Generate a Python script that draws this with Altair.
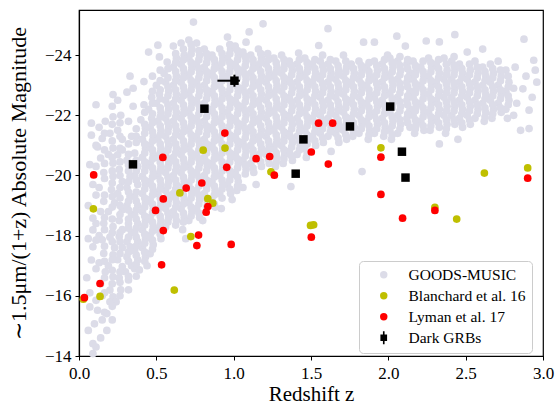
import altair as alt
import pandas as pd

# ---------------- data ----------------
series_names = ["GOODS-MUSIC", "Blanchard et al. 16", "Lyman et al. 17", "Dark GRBs"]

# GOODS-MUSIC field galaxies (redshift, magnitude), hand-estimated from the cloud
goods = [
    (0.08,-21.74),(0.08,-21.34),(0.07,-20.36),(0.09,-19.7),(0.06,-19.0),(0.09,-18.58),(0.09,-18.19),(0.06,-17.9),
    (0.09,-17.63),(0.08,-17.19),(0.05,-16.6),(0.07,-16.1),(0.07,-15.63),(0.06,-14.85),(0.10,-15.07),(0.09,-14.41),
    (0.09,-14.08),(0.11,-14.3),(0.11,-22.35),(0.12,-20.95),
    (0.13,-21.6),(0.15,-21.23),(0.14,-20.58),(0.16,-20.1),(0.13,-19.6),(0.16,-19.14),(0.14,-18.8),(0.16,-18.41),
    (0.13,-18.0),(0.15,-17.86),(0.16,-17.41),(0.13,-17.1),(0.17,-16.8),(0.14,-16.4),(0.15,-16.0),(0.12,-15.52),
    (0.15,-15.2),(0.18,-14.85),(0.14,-14.6),(0.17,-21.8),
    (0.22,-22.69),(0.22,-21.95),(0.20,-21.4),(0.22,-20.91),(0.19,-20.7),(0.22,-20.41),(0.22,-19.97),(0.21,-19.53),
    (0.23,-19.09),(0.19,-18.8),(0.22,-18.3),(0.20,-17.95),(0.23,-17.6),(0.22,-17.36),(0.19,-17.0),(0.22,-16.63),
    (0.20,-16.19),(0.22,-15.97),(0.18,-15.41),(0.20,-15.8),
    (0.25,-22.5),(0.27,-22.0),(0.25,-21.5),(0.28,-21.2),(0.25,-20.69),(0.28,-20.85),(0.26,-20.2),(0.28,-19.8),
    (0.25,-19.4),(0.28,-18.86),(0.26,-18.5),(0.28,-18.2),(0.26,-17.97),(0.28,-17.6),(0.25,-17.2),(0.28,-16.97),
    (0.26,-16.6),(0.27,-16.2),(0.24,-15.8),
    (0.31,-22.77),(0.33,-23.3),(0.34,-21.3),(0.31,-20.5),(0.33,-19.97),(0.31,-19.6),(0.33,-19.3),(0.31,-19.0),
    (0.34,-18.7),(0.32,-18.4),(0.34,-18.1),(0.31,-17.8),(0.33,-17.63),(0.31,-17.3),(0.34,-17.0),(0.32,-16.53),
    (0.30,-16.8),(0.32,-21.8),
    (0.35,-22.9),(0.35,-22.3),(0.36,-20.74),(0.38,-20.3),(0.36,-20.0),(0.38,-19.7),(0.36,-19.3),(0.38,-19.0),
    (0.36,-18.7),(0.38,-18.4),(0.36,-18.1),(0.38,-17.8),(0.36,-17.5),(0.38,-17.2),(0.36,-16.9),(0.39,-16.86),
    (0.37,-21.3),
    (0.42,-22.35),(0.42,-23.12),(0.40,-21.85),(0.43,-21.57),(0.41,-21.2),(0.43,-20.9),(0.41,-20.6),(0.43,-20.3),
    (0.41,-19.97),(0.43,-19.7),(0.41,-19.4),(0.43,-19.1),(0.41,-18.8),(0.43,-18.5),(0.41,-18.2),(0.43,-17.9),
    (0.41,-17.6),(0.43,-17.3),(0.44,-17.0),
    (0.45,-24.1),(0.47,-22.6),(0.45,-22.2),(0.47,-21.9),(0.46,-21.6),(0.48,-21.3),(0.46,-21.0),(0.48,-20.7),
    (0.46,-20.4),(0.48,-20.1),(0.46,-19.8),(0.48,-19.5),(0.46,-19.2),(0.48,-18.9),(0.46,-18.6),(0.48,-18.3),
    (0.46,-18.0),(0.48,-17.7),(0.46,-17.4),
    (0.51,-24.33),(0.52,-23.94),(0.50,-23.0),(0.52,-22.7),(0.50,-22.4),(0.53,-22.1),(0.51,-21.8),(0.53,-21.5),
    (0.51,-21.2),(0.53,-20.9),(0.51,-20.6),(0.53,-20.3),(0.51,-20.0),(0.53,-19.7),(0.51,-19.4),(0.53,-19.1),
    (0.51,-18.8),(0.53,-18.5),(0.51,-18.2),(0.53,-17.9),
    (0.55,-23.39),(0.57,-23.77),(0.56,-23.1),(0.58,-22.8),(0.56,-22.5),(0.58,-22.2),(0.56,-21.9),(0.58,-21.6),
    (0.56,-21.3),(0.58,-21.0),(0.56,-20.7),(0.58,-20.4),(0.56,-20.1),(0.58,-19.8),(0.56,-19.5),(0.58,-19.2),
    (0.56,-18.9),(0.58,-18.6),(0.56,-18.3),
    (0.61,-24.3),(0.63,-23.9),(0.61,-23.6),(0.63,-23.3),(0.61,-23.0),(0.63,-22.7),(0.61,-22.4),(0.63,-22.1),
    (0.61,-21.8),(0.63,-21.5),(0.61,-21.2),(0.63,-20.9),(0.61,-20.6),(0.63,-20.3),(0.61,-20.0),(0.63,-19.7),
    (0.61,-19.4),(0.63,-19.1),(0.61,-18.8),(0.63,-18.5),
    (0.66,-24.4),(0.68,-24.0),(0.66,-23.7),(0.68,-23.4),(0.66,-23.1),(0.68,-22.8),(0.66,-22.5),(0.68,-22.2),
    (0.66,-21.9),(0.68,-21.6),(0.66,-21.3),(0.68,-21.0),(0.66,-20.7),(0.68,-20.4),(0.66,-20.1),(0.68,-19.8),
    (0.66,-19.5),(0.68,-19.2),(0.66,-18.9),(0.68,-18.6),(0.67,-18.2),(0.69,-17.9),
    (0.74,-25.1),(0.71,-24.5),(0.73,-24.2),(0.71,-23.9),(0.73,-23.6),(0.71,-23.3),(0.73,-23.0),(0.71,-22.7),
    (0.73,-22.4),(0.71,-22.1),(0.73,-21.8),(0.71,-21.5),(0.73,-21.2),(0.71,-20.9),(0.73,-20.6),(0.71,-20.3),
    (0.73,-20.0),(0.71,-19.7),(0.73,-19.4),(0.71,-19.1),(0.73,-18.8),(0.71,-18.5),
    (0.76,-24.4),(0.78,-24.0),(0.76,-23.7),(0.78,-23.4),(0.76,-23.1),(0.78,-22.8),(0.76,-22.5),(0.78,-22.2),
    (0.76,-21.9),(0.78,-21.6),(0.76,-21.3),(0.78,-21.0),(0.76,-20.7),(0.78,-20.4),(0.76,-20.1),(0.78,-19.8),
    (0.76,-19.5),(0.78,-19.2),(0.76,-18.9),(0.78,-18.6),
    (0.81,-24.2),(0.83,-23.9),(0.81,-23.6),(0.83,-23.3),(0.81,-23.0),(0.83,-22.7),(0.81,-22.4),(0.83,-22.1),
    (0.81,-21.8),(0.83,-21.5),(0.81,-21.2),(0.83,-20.9),(0.81,-20.6),(0.83,-20.3),(0.81,-20.0),(0.83,-19.7),
    (0.81,-19.4),(0.83,-19.1),(0.80,-18.5),
    (0.86,-24.0),(0.88,-23.7),(0.86,-23.4),(0.88,-23.1),(0.86,-22.8),(0.88,-22.5),(0.86,-22.2),(0.88,-21.9),
    (0.86,-21.6),(0.88,-21.3),(0.86,-21.0),(0.88,-20.7),(0.86,-20.4),(0.88,-20.1),(0.86,-19.8),(0.88,-19.5),
    (0.86,-19.2),(0.88,-18.95),
    (0.91,-24.2),(0.93,-23.9),(0.91,-23.6),(0.93,-23.3),(0.91,-23.0),(0.93,-22.7),(0.91,-22.4),(0.93,-22.1),
    (0.91,-21.8),(0.93,-21.5),(0.91,-21.2),(0.93,-20.9),(0.91,-20.6),(0.93,-20.3),(0.91,-20.0),(0.93,-19.7),
    (0.91,-19.4),(0.92,-18.9),
    (0.96,-24.6),(0.98,-24.2),(0.96,-23.9),(0.98,-23.6),(0.96,-23.3),(0.98,-23.0),(0.96,-22.7),(0.98,-22.4),
    (0.96,-22.1),(0.98,-21.8),(0.96,-21.5),(0.98,-21.2),(0.96,-20.9),(0.98,-20.6),(0.96,-20.3),(0.98,-20.0),
    (0.96,-19.7),(0.98,-19.4),(0.99,-19.2),
    (1.01,-24.3),(1.03,-24.0),(1.01,-23.7),(1.03,-23.4),(1.01,-23.1),(1.03,-22.8),(1.01,-22.5),(1.03,-22.2),
    (1.01,-21.9),(1.03,-21.6),(1.01,-21.3),(1.03,-21.0),(1.01,-20.7),(1.03,-20.4),(1.01,-20.1),(1.03,-19.8),
    (1.02,-19.5),
    (1.08,-24.43),(1.06,-24.1),(1.08,-23.8),(1.06,-23.5),(1.08,-23.2),(1.06,-22.9),(1.08,-22.6),(1.06,-22.3),
    (1.08,-22.0),(1.06,-21.7),(1.08,-21.4),(1.06,-21.1),(1.08,-20.8),(1.06,-20.5),(1.08,-20.2),(1.06,-19.6),
    (1.10,-24.77),(1.11,-24.0),(1.13,-23.7),(1.11,-23.4),(1.13,-23.1),(1.11,-22.8),(1.13,-22.5),(1.11,-22.2),
    (1.13,-21.9),(1.11,-21.6),(1.13,-21.3),(1.11,-21.0),(1.13,-20.7),(1.11,-20.4),(1.13,-20.1),
    (1.19,-25.04),(1.16,-24.2),(1.18,-23.9),(1.16,-23.6),(1.18,-23.3),(1.16,-23.0),(1.18,-22.7),(1.16,-22.4),
    (1.18,-22.1),(1.16,-21.8),(1.18,-21.5),(1.16,-21.2),(1.18,-20.9),(1.16,-20.6),(1.18,-20.3),(1.145,-19.7),
    (1.22,-24.05),(1.21,-23.7),(1.23,-23.4),(1.21,-23.1),(1.23,-22.8),(1.21,-22.5),(1.23,-22.2),(1.21,-21.9),
    (1.23,-21.6),(1.21,-21.3),(1.23,-21.0),(1.21,-20.7),(1.23,-20.4),
    (1.26,-23.9),(1.28,-23.6),(1.26,-23.3),(1.28,-23.0),(1.26,-22.7),(1.28,-22.4),(1.26,-22.1),(1.28,-21.8),
    (1.26,-21.5),(1.28,-21.2),(1.26,-20.9),(1.28,-20.6),(1.27,-20.3),
    (1.31,-24.0),(1.33,-23.7),(1.31,-23.4),(1.33,-23.1),(1.31,-22.8),(1.33,-22.5),(1.31,-22.2),(1.33,-21.9),
    (1.31,-21.6),(1.33,-21.3),(1.31,-21.0),(1.33,-20.7),(1.32,-20.4),
    (1.36,-23.8),(1.38,-23.5),(1.36,-23.2),(1.38,-22.9),(1.36,-22.6),(1.38,-22.3),(1.36,-22.0),(1.38,-21.7),
    (1.36,-21.4),(1.38,-21.1),(1.36,-20.8),(1.38,-20.5),(1.37,-19.63),
    (1.42,-24.07),(1.41,-23.7),(1.43,-23.4),(1.41,-23.1),(1.43,-22.8),(1.41,-22.5),(1.43,-22.2),(1.41,-21.9),
    (1.43,-21.6),(1.41,-21.3),(1.43,-21.0),(1.41,-20.7),
    (1.46,-23.9),(1.48,-23.6),(1.46,-23.3),(1.48,-23.0),(1.46,-22.7),(1.48,-22.4),(1.46,-22.1),(1.48,-21.8),
    (1.46,-21.5),(1.48,-21.2),(1.46,-20.9),(1.47,-20.6),
    (1.51,-23.7),(1.53,-23.4),(1.51,-23.1),(1.53,-22.8),(1.51,-22.5),(1.53,-22.2),(1.51,-21.9),(1.53,-21.6),
    (1.51,-21.3),(1.53,-21.0),
    (1.55,-24.32),(1.56,-23.8),(1.58,-23.5),(1.56,-23.2),(1.58,-22.9),(1.56,-22.6),(1.58,-22.3),(1.56,-22.0),
    (1.58,-21.7),(1.56,-21.4),(1.58,-21.1),
    (1.61,-24.88),(1.61,-23.7),(1.63,-23.4),(1.61,-23.1),(1.63,-22.8),(1.61,-22.5),(1.63,-22.2),(1.61,-21.9),
    (1.63,-21.6),(1.61,-21.3),(1.63,-20.8),
    (1.66,-23.8),(1.68,-23.5),(1.66,-23.2),(1.68,-22.9),(1.66,-22.6),(1.68,-22.3),(1.66,-22.0),(1.68,-21.7),
    (1.66,-21.4),(1.68,-21.1),
    (1.71,-24.0),(1.73,-23.6),(1.71,-23.3),(1.73,-23.0),(1.71,-22.7),(1.73,-22.4),(1.71,-22.1),(1.73,-21.8),
    (1.71,-21.5),(1.73,-21.2),
    (1.76,-23.7),(1.78,-23.4),(1.76,-23.1),(1.78,-22.8),(1.76,-22.5),(1.78,-22.2),(1.76,-21.9),(1.78,-21.6),
    (1.77,-21.3),
    (1.84,-24.43),(1.81,-23.8),(1.83,-23.5),(1.81,-23.2),(1.83,-22.9),(1.81,-22.6),(1.83,-22.3),(1.81,-22.0),
    (1.83,-21.7),(1.81,-21.4),(1.83,-20.13),
    (1.86,-23.6),(1.88,-23.3),(1.86,-23.0),(1.88,-22.7),(1.86,-22.4),(1.88,-22.1),(1.86,-21.8),(1.88,-21.5),
    (1.87,-21.2),
    (1.91,-24.43),(1.91,-23.8),(1.93,-23.5),(1.91,-23.2),(1.93,-22.9),(1.91,-22.6),(1.93,-22.3),(1.91,-22.0),
    (1.93,-21.7),(1.91,-21.4),
    (1.96,-23.7),(1.98,-23.4),(1.96,-23.1),(1.98,-22.8),(1.96,-22.5),(1.98,-22.2),(1.96,-21.9),(1.98,-21.6),
    (1.97,-21.3),(1.995,-24.0),
    (2.01,-23.9),(2.03,-23.6),(2.01,-23.3),(2.03,-23.0),(2.01,-22.7),(2.03,-22.4),(2.01,-22.1),(2.03,-21.8),
    (2.01,-21.5),(2.02,-21.2),
    (2.055,-24.63),(2.06,-23.8),(2.08,-23.5),(2.06,-23.2),(2.08,-22.9),(2.06,-22.6),(2.08,-22.3),(2.06,-22.0),
    (2.08,-21.7),(2.06,-21.4),
    (2.11,-24.3),(2.12,-23.7),(2.14,-23.4),(2.12,-23.1),(2.14,-22.8),(2.12,-22.5),(2.14,-22.2),(2.12,-21.9),
    (2.14,-21.6),
    (2.16,-23.8),(2.18,-23.5),(2.16,-23.2),(2.18,-22.9),(2.16,-22.6),(2.18,-22.3),(2.16,-22.0),(2.18,-21.7),
    (2.17,-21.4),
    (2.245,-24.47),(2.21,-23.6),(2.23,-23.3),(2.21,-23.0),(2.23,-22.7),(2.21,-22.4),(2.23,-22.1),(2.21,-21.8),
    (2.23,-21.5),
    (2.26,-23.9),(2.28,-23.6),(2.26,-23.3),(2.28,-23.0),(2.26,-22.7),(2.28,-22.4),(2.26,-22.1),(2.28,-21.8),
    (2.27,-21.5),
    (2.33,-24.44),(2.31,-23.7),(2.33,-23.4),(2.31,-23.1),(2.33,-22.8),(2.31,-22.5),(2.33,-22.2),(2.31,-21.9),
    (2.33,-21.6),(2.33,-21.05),
    (2.36,-23.9),(2.38,-23.5),(2.36,-23.2),(2.38,-22.9),(2.36,-22.6),(2.38,-22.3),(2.36,-22.0),(2.38,-21.7),
    (2.37,-21.4),
    (2.43,-24.68),(2.41,-23.8),(2.43,-23.5),(2.41,-23.2),(2.43,-22.9),(2.41,-22.6),(2.43,-22.3),(2.41,-22.0),
    (2.43,-21.7),
    (2.46,-23.7),(2.48,-23.4),(2.46,-23.1),(2.48,-22.8),(2.46,-22.5),(2.48,-22.2),(2.46,-21.9),(2.48,-21.6),
    (2.45,-21.2),
    (2.51,-24.1),(2.53,-23.5),(2.51,-23.2),(2.53,-22.9),(2.51,-22.6),(2.53,-22.3),(2.51,-22.0),(2.53,-21.7),
    (2.56,-23.8),(2.58,-23.4),(2.56,-23.1),(2.58,-22.8),(2.56,-22.5),(2.58,-22.2),(2.56,-21.9),
    (2.61,-24.2),(2.61,-23.6),(2.63,-23.3),(2.61,-23.0),(2.63,-22.7),(2.61,-22.4),(2.63,-22.1),(2.62,-21.8),
    (2.66,-23.7),(2.68,-23.4),(2.66,-23.1),(2.68,-22.8),(2.66,-22.5),(2.68,-22.2),(2.67,-21.9),
    (2.71,-23.8),(2.73,-23.3),(2.71,-23.0),(2.73,-22.7),(2.71,-22.4),(2.73,-22.1),
    (2.76,-23.5),(2.78,-23.1),(2.76,-22.8),(2.78,-22.5),(2.76,-22.2),(2.77,-21.9),
    (2.82,-23.6),(2.81,-22.9),(2.83,-22.4),(2.81,-22.0),(2.855,-21.5),
    (2.877,-24.53),(2.94,-23.83),(2.95,-23.5),(2.87,-22.88),(2.96,-23.1),(2.91,-22.17),(2.91,-21.56),
    (2.93,-22.6),(2.89,-23.3),
]

# more GOODS-MUSIC galaxies filling the dense part of the cloud: (redshift, [magnitudes])
goods_dense = [
    (0.11, [-15.85, -16.9, -17.85, -18.4, -19.35, -20.3, -21.0]),
    (0.165, [-15.45, -16.1, -16.6, -17.15, -17.65, -18.2, -18.6, -19.35, -19.9, -20.4, -20.85, -21.4]),
    (0.215, [-15.2, -15.65, -16.4, -16.85, -17.2, -17.8, -18.1, -18.55, -18.95, -19.3, -19.75, -20.15,
             -20.6, -21.15, -21.7, -22.3]),
    (0.265, [-16.0, -16.45, -16.8, -17.4, -17.8, -18.1, -18.7, -19.0, -19.25, -19.6, -20.0, -20.45,
             -20.9, -21.3, -21.75]),
    (0.32, [-16.2, -16.65, -17.15, -17.45, -17.95, -18.25, -18.55, -18.85, -19.15, -19.45, -19.8,
            -20.15, -20.35, -20.7, -21.05]),
    (0.37, [-16.65, -17.05, -17.35, -17.65, -17.95, -18.25, -18.55, -18.85, -19.15, -19.45, -19.85,
            -20.15, -20.5, -21.1, -21.55]),
    (0.425, [-17.15, -17.45, -17.75, -18.05, -18.35, -18.65, -18.95, -19.25, -19.55, -19.85, -20.15,
             -20.45, -20.75, -21.05, -21.4, -21.7, -22.1]),
    (0.475, [-17.55, -17.85, -18.15, -18.45, -18.75, -19.05, -19.35, -19.65, -19.95, -20.25, -20.55,
             -20.85, -21.15, -21.45, -21.75, -22.05, -22.4, -22.8, -23.3]),
    (0.525, [-18.05, -18.35, -18.65, -18.95, -19.25, -19.55, -19.85, -20.15, -20.45, -20.75, -21.05,
             -21.35, -21.65, -21.95, -22.25, -22.55, -22.85, -23.15, -23.5]),
    (0.575, [-18.45, -18.75, -19.05, -19.35, -19.65, -19.95, -20.25, -20.55, -20.85, -21.15, -21.45,
             -21.75, -22.05, -22.35, -22.65, -22.95, -23.25, -23.55]),
    (0.625, [-18.35, -18.65, -18.95, -19.25, -19.55, -19.85, -20.15, -20.45, -20.75, -21.05, -21.35,
             -21.65, -21.95, -22.25, -22.55, -22.85, -23.15, -23.45, -23.75, -24.05]),
    (0.675, [-18.45, -18.75, -19.05, -19.35, -19.65, -19.95, -20.25, -20.55, -20.85, -21.15, -21.45,
             -21.75, -22.05, -22.35, -22.65, -22.95, -23.25, -23.55, -23.85, -24.2]),
    (0.725, [-18.65, -18.95, -19.25, -19.55, -19.85, -20.15, -20.45, -20.75, -21.05, -21.35, -21.65,
             -21.95, -22.25, -22.55, -22.85, -23.15, -23.45, -23.75, -24.05, -24.35]),
    (0.775, [-18.75, -19.05, -19.35, -19.65, -19.95, -20.25, -20.55, -20.85, -21.15, -21.45, -21.75,
             -22.05, -22.35, -22.65, -22.95, -23.25, -23.55, -23.85, -24.15]),
    (0.825, [-18.95, -19.25, -19.55, -19.85, -20.15, -20.45, -20.75, -21.05, -21.35, -21.65, -21.95,
             -22.25, -22.55, -22.85, -23.15, -23.45, -23.75, -24.05]),
    (0.875, [-19.05, -19.35, -19.65, -19.95, -20.25, -20.55, -20.85, -21.15, -21.45, -21.75, -22.05,
             -22.35, -22.65, -22.95, -23.25, -23.55, -23.85]),
    (0.925, [-19.25, -19.55, -19.85, -20.15, -20.45, -20.75, -21.05, -21.35, -21.65, -21.95, -22.25,
             -22.55, -22.85, -23.15, -23.45, -23.75, -24.05]),
    (0.975, [-19.55, -19.85, -20.15, -20.45, -20.75, -21.05, -21.35, -21.65, -21.95, -22.25, -22.55,
             -22.85, -23.15, -23.45, -23.75, -24.05, -24.35]),
    (1.025, [-19.65, -19.95, -20.25, -20.55, -20.85, -21.15, -21.45, -21.75, -22.05, -22.35, -22.65,
             -22.95, -23.25, -23.55, -23.85, -24.15]),
    (1.075, [-20.05, -20.35, -20.65, -20.95, -21.25, -21.55, -21.85, -22.15, -22.45, -22.75, -23.05,
             -23.35, -23.65, -23.95]),
    (1.125, [-20.25, -20.55, -20.85, -21.15, -21.45, -21.75, -22.05, -22.35, -22.65, -22.95, -23.25,
             -23.55, -23.85]),
    (1.175, [-20.45, -20.75, -21.05, -21.35, -21.65, -21.95, -22.25, -22.55, -22.85, -23.15, -23.45,
             -23.75, -24.05]),
    (1.225, [-20.55, -20.85, -21.15, -21.45, -21.75, -22.05, -22.35, -22.65, -22.95, -23.25, -23.55,
             -23.85]),
    (1.275, [-20.45, -20.75, -21.05, -21.35, -21.65, -21.95, -22.25, -22.55, -22.85, -23.15, -23.45,
             -23.75]),
    (1.325, [-20.55, -20.85, -21.15, -21.45, -21.75, -22.05, -22.35, -22.65, -22.95, -23.25, -23.55,
             -23.85]),
    (1.375, [-20.65, -20.95, -21.25, -21.55, -21.85, -22.15, -22.45, -22.75, -23.05, -23.35, -23.65]),
    (1.425, [-20.85, -21.15, -21.45, -21.75, -22.05, -22.35, -22.65, -22.95, -23.25, -23.55, -23.85]),
    (1.475, [-20.75, -21.05, -21.35, -21.65, -21.95, -22.25, -22.55, -22.85, -23.15, -23.45, -23.75]),
    (1.525, [-21.15, -21.45, -21.75, -22.05, -22.35, -22.65, -22.95, -23.25, -23.55, -23.85]),
    (1.575, [-21.25, -21.55, -21.85, -22.15, -22.45, -22.75, -23.05, -23.35, -23.65, -24.0]),
    (1.625, [-21.45, -21.75, -22.05, -22.35, -22.65, -22.95, -23.25, -23.55, -23.85]),
    (1.675, [-21.25, -21.55, -21.85, -22.15, -22.45, -22.75, -23.05, -23.35, -23.65]),
    (1.725, [-21.35, -21.65, -21.95, -22.25, -22.55, -22.85, -23.15, -23.45, -23.8]),
    (1.775, [-21.45, -21.75, -22.05, -22.35, -22.65, -22.95, -23.25, -23.55]),
    (1.825, [-21.55, -21.85, -22.15, -22.45, -22.75, -23.05, -23.35, -23.65]),
    (1.875, [-21.35, -21.65, -21.95, -22.25, -22.55, -22.85, -23.15, -23.45, -23.75]),
    (1.925, [-21.55, -21.85, -22.15, -22.45, -22.75, -23.05, -23.35, -23.65]),
    (1.975, [-21.45, -21.75, -22.05, -22.35, -22.65, -22.95, -23.25, -23.55, -23.85]),
    (2.025, [-21.35, -21.65, -21.95, -22.25, -22.55, -22.85, -23.15, -23.45, -23.75]),
    (2.075, [-21.55, -21.85, -22.15, -22.45, -22.75, -23.05, -23.35, -23.65, -23.95]),
    (2.125, [-21.75, -22.05, -22.35, -22.65, -22.95, -23.25, -23.55, -23.85]),
    (2.175, [-21.55, -21.85, -22.15, -22.45, -22.75, -23.05, -23.35, -23.65]),
    (2.225, [-21.65, -21.95, -22.25, -22.55, -22.85, -23.15, -23.45, -23.8]),
    (2.275, [-21.65, -21.95, -22.25, -22.55, -22.85, -23.15, -23.45, -23.75]),
    (2.325, [-21.75, -22.05, -22.35, -22.65, -22.95, -23.25, -23.55, -23.85]),
    (2.375, [-21.55, -21.85, -22.15, -22.45, -22.75, -23.05, -23.35, -23.7]),
    (2.425, [-21.85, -22.15, -22.45, -22.75, -23.05, -23.35, -23.65, -23.95]),
    (2.475, [-21.75, -22.05, -22.35, -22.65, -22.95, -23.25, -23.55]),
    (2.525, [-21.85, -22.15, -22.45, -22.75, -23.05, -23.35, -23.7]),
    (2.575, [-22.05, -22.35, -22.65, -22.95, -23.25, -23.6]),
    (2.625, [-21.95, -22.25, -22.55, -22.85, -23.15, -23.45]),
    (2.675, [-22.05, -22.35, -22.65, -22.95, -23.25, -23.55]),
    (2.725, [-22.25, -22.55, -22.85, -23.15, -23.5]),
    (2.775, [-22.35, -22.65, -22.95, -23.3]),
]

blanchard_z = [0.803, 0.652, 0.833, 0.865, 0.093, 0.723, 0.616, 0.136, 0.028,
               0.944, 1.241, 1.497, 1.517, 1.952, 2.621, 2.901, 2.301, 2.442]
blanchard_mag = [-20.84, -19.42, -19.23, -19.08, -18.89, -17.97, -16.19, -15.98, -15.89,
                 -20.91, -20.12, -18.34, -18.36, -20.92, -20.08, -20.25, -18.94, -18.55]

lyman_z = [0.095, 0.542, 0.794, 0.693, 0.545, 0.833, 0.822, 0.495, 0.545, 0.773,
           0.762, 0.534, 0.136, 0.035, 0.943, 0.955, 1.145, 1.233, 1.263, 1.549,
           1.640, 1.502, 1.612, 1.502, 0.984, 1.952, 2.901, 1.952, 2.301, 2.092]
lyman_mag = [-20.02, -20.60, -19.75, -19.58, -19.22, -18.97, -18.78, -18.84, -18.17, -18.02,
             -17.67, -17.03, -16.41, -15.94, -21.41, -20.27, -20.56, -20.63, -20.01, -21.74,
             -21.74, -20.78, -20.38, -17.95, -17.71, -20.61, -19.91, -19.37, -18.84, -18.58]

dark_z = [0.349, 0.811, 1.005, 1.451, 1.401, 1.752, 2.012, 2.088, 2.111]
dark_mag = [-20.37, -22.22, -23.15, -21.20, -20.06, -21.63, -22.29, -20.79, -19.93]

# the one dark GRB with error bars
err_z = [1.005]
err_mag = [-23.15]
err_z_lo = [0.895]
err_z_hi = [1.04]
err_mag_lo = [-23.35]
err_mag_hi = [-22.95]

# ---------------- tables ----------------
rows = [{"z": z, "mag": m, "series": series_names[0]} for z, m in goods]
rows += [{"z": z, "mag": m, "series": series_names[0]} for z, mags in goods_dense for m in mags]
rows += [{"z": z, "mag": m, "series": series_names[1]} for z, m in zip(blanchard_z, blanchard_mag)]
rows += [{"z": z, "mag": m, "series": series_names[2]} for z, m in zip(lyman_z, lyman_mag)]
circles_df = pd.DataFrame(rows)
dark_df = pd.DataFrame({"z": dark_z, "mag": dark_mag, "series": series_names[3]})
err_df = pd.DataFrame({"z": err_z, "mag": err_mag, "z_lo": err_z_lo, "z_hi": err_z_hi,
                       "mag_lo": err_mag_lo, "mag_hi": err_mag_hi})

FONT = "Liberation Serif"
GRB_PATH = "M-0.22,-1.75H0.22V-0.9H0.9V0.9H0.22V1.75H-0.22V0.9H-0.9V-0.9H-0.22Z"

color_scale = alt.Scale(domain=series_names, range=["#dcdce8", "#bfbf00", "#ff0000", "#000000"])
shape_scale = alt.Scale(domain=series_names, range=["circle", "circle", "circle", GRB_PATH])

legend = alt.Legend(
    title=None, orient="none", legendX=280, legendY=251,
    labelFont=FONT, labelFontSize=15.5, labelColor="black",
    symbolSize=55, symbolOpacity=1, symbolStrokeWidth=0,
    padding=6, rowPadding=4, symbolOffset=11, labelOffset=17,
    strokeColor="#cccccc", fillColor="white", cornerRadius=4,
)

x_enc = alt.X("z:Q", scale=alt.Scale(domain=[0, 3], nice=False, zero=False),
              axis=alt.Axis(values=[0, 0.5, 1.0, 1.5, 2.0, 2.5, 3.0], format=".1f",
                            title="Redshift z", titlePadding=2, labelFlush=False, labelPadding=5))
y_enc = alt.Y("mag:Q", scale=alt.Scale(domain=[-14, -25.5], nice=False, zero=False),
              axis=alt.Axis(values=[-24, -22, -20, -18, -16, -14], format="d",
                            title="∼1.5μm/(1+z) Absolute Magnitude", titlePadding=14,
                            titleFontSize=22, labelFlush=False, labelPadding=4))

circles = alt.Chart(circles_df).mark_point(filled=True, size=59, opacity=1, strokeWidth=0).encode(
    x=x_enc, y=y_enc,
    color=alt.Color("series:N", scale=color_scale, legend=legend),
    shape=alt.Shape("series:N", scale=shape_scale, legend=legend),
)

err_h = alt.Chart(err_df).mark_rule(color="black", strokeWidth=2).encode(
    x="z_lo:Q", x2="z_hi:Q", y="mag:Q")
err_v = alt.Chart(err_df).mark_rule(color="black", strokeWidth=2).encode(
    x="z:Q", y="mag_lo:Q", y2="mag_hi:Q")

squares = alt.Chart(dark_df).mark_square(size=72, opacity=1).encode(
    x=x_enc, y=y_enc,
    color=alt.Color("series:N", scale=color_scale, legend=legend),
)

chart = alt.layer(circles, err_h, err_v, squares).properties(
    width=464, height=346,
    autosize=alt.AutoSizeParams(type="none"),
    padding={"left": 79, "top": 10, "right": 14, "bottom": 50},
).configure_view(
    stroke="black", strokeWidth=1.2
).configure_axis(
    grid=False, domainColor="black", domainWidth=1.2, tickColor="black", tickSize=4,
    labelColor="black", titleColor="black", labelFont=FONT, titleFont=FONT,
    labelFontSize=17, titleFontSize=21, titleFontWeight="normal",
)

chart.save("out.html", embed_options={"renderer": "svg", "actions": False})
